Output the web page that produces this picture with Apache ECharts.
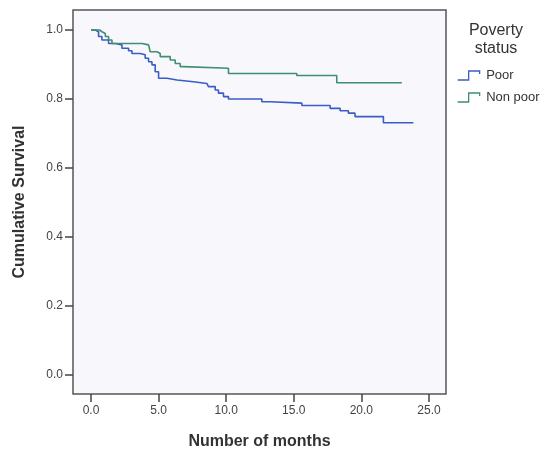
<!DOCTYPE html>
<html>
<head>
<meta charset="utf-8">
<script src="https://cdn.jsdelivr.net/npm/echarts@6/dist/echarts.min.js"></script>
<style>
  html, body { margin: 0; padding: 0; background: #fff; }
  #chart { width: 543px; height: 459px; }
</style>
</head>
<body>
<div id="chart"></div>
<script>
// Kaplan-Meier steps: [months, cumulative survival]
const poorTimes = [0, 0.32, 0.56, 0.81, 1.30, 1.80, 2.29, 2.78, 3.03, 3.64, 4.01, 4.26, 4.51, 4.75, 5.0, 5.62, 6.36, 7.58, 8.57, 8.69, 9.19, 9.43, 9.80, 10.17, 12.64, 13.25, 15.6, 17.69, 18.43, 19.04, 19.53, 21.63, 23.85];
const poorSurv = [1.0, 0.995, 0.981, 0.971, 0.961, 0.957, 0.947, 0.940, 0.932, 0.928, 0.918, 0.908, 0.899, 0.879, 0.860, 0.855, 0.850, 0.845, 0.841, 0.836, 0.826, 0.817, 0.807, 0.800, 0.792, 0.788, 0.781, 0.773, 0.766, 0.759, 0.749, 0.731, 0.731];
const nonPoorTimes = [0, 0.64, 0.81, 1.06, 1.30, 1.55, 3.77, 4.26, 4.38, 4.88, 5.12, 5.86, 6.23, 6.60, 6.84, 10.17, 15.22, 18.18, 22.99];
const nonPoorSurv = [1.0, 0.995, 0.990, 0.981, 0.971, 0.961, 0.957, 0.952, 0.937, 0.932, 0.923, 0.913, 0.903, 0.894, 0.889, 0.874, 0.868, 0.847, 0.847];

const xTicks = [0, 5, 10, 15, 20, 25];
const yTicks = [0, 0.2, 0.4, 0.6, 0.8, 1.0];

const blue = '#3b5cc6';
const green = '#3f8f70';
const stepIcon = 'path://M0,10 L11,10 L11,1 L22,1 L22,4';

const pairs = (xs, ys) => xs.map((x, i) => [x, ys[i]]);

const chart = echarts.init(document.getElementById('chart'));
chart.setOption({
  animation: false,
  backgroundColor: '#fff',
  textStyle: { fontFamily: 'Liberation Sans, Arial, sans-serif' },
  grid: {
    left: 73, right: 97, top: 10, bottom: 65,
    show: true,
    backgroundColor: '#f8f8fc',
    borderColor: '#555',
    borderWidth: 1.5
  },
  xAxis: {
    type: 'value',
    min: -1.33, max: 26.26,
    name: 'Number of months',
    nameLocation: 'middle',
    nameGap: 40,
    nameTextStyle: { fontSize: 16, fontWeight: 'bold', color: '#333' },
    axisLine: { show: false, onZero: false },
    splitLine: { show: false },
    axisTick: { show: true, length: 8, customValues: xTicks, lineStyle: { color: '#444', width: 1.5 } },
    axisLabel: { customValues: xTicks, formatter: v => v.toFixed(1), color: '#444', fontSize: 12, margin: 11 }
  },
  yAxis: {
    type: 'value',
    min: -0.055, max: 1.058,
    name: 'Cumulative Survival',
    nameLocation: 'middle',
    nameGap: 45,
    nameTextStyle: { fontSize: 16, fontWeight: 'bold', color: '#333' },
    axisLine: { show: false, onZero: false },
    splitLine: { show: false },
    axisTick: { show: true, length: 8, customValues: yTicks, lineStyle: { color: '#444', width: 1.5 } },
    axisLabel: { customValues: yTicks, formatter: v => v.toFixed(1), color: '#444', fontSize: 12, margin: 10 }
  },
  legend: {
    orient: 'vertical',
    left: 452, top: 64,
    itemWidth: 25, itemHeight: 9, itemGap: 9,
    textStyle: { fontSize: 13, color: '#333' },
    data: [
      { name: 'Poor', icon: stepIcon, itemStyle: { color: 'transparent', borderColor: blue, borderWidth: 1.3 } },
      { name: 'Non poor', icon: stepIcon, itemStyle: { color: 'transparent', borderColor: green, borderWidth: 1.3 } }
    ]
  },
  graphic: [{
    type: 'text',
    x: 496, y: 22,
    style: { text: 'Poverty\nstatus', fill: '#333', fontSize: 16, lineHeight: 18, align: 'center', fontFamily: 'Liberation Sans, Arial, sans-serif' }
  }],
  series: [
    {
      name: 'Poor', type: 'line', step: 'end', showSymbol: false, symbol: 'none',
      lineStyle: { color: blue, width: 1.6 }, itemStyle: { color: blue },
      data: pairs(poorTimes, poorSurv)
    },
    {
      name: 'Non poor', type: 'line', step: 'end', showSymbol: false, symbol: 'none',
      lineStyle: { color: green, width: 1.6 }, itemStyle: { color: green },
      data: pairs(nonPoorTimes, nonPoorSurv)
    }
  ]
});
</script>
</body>
</html>
